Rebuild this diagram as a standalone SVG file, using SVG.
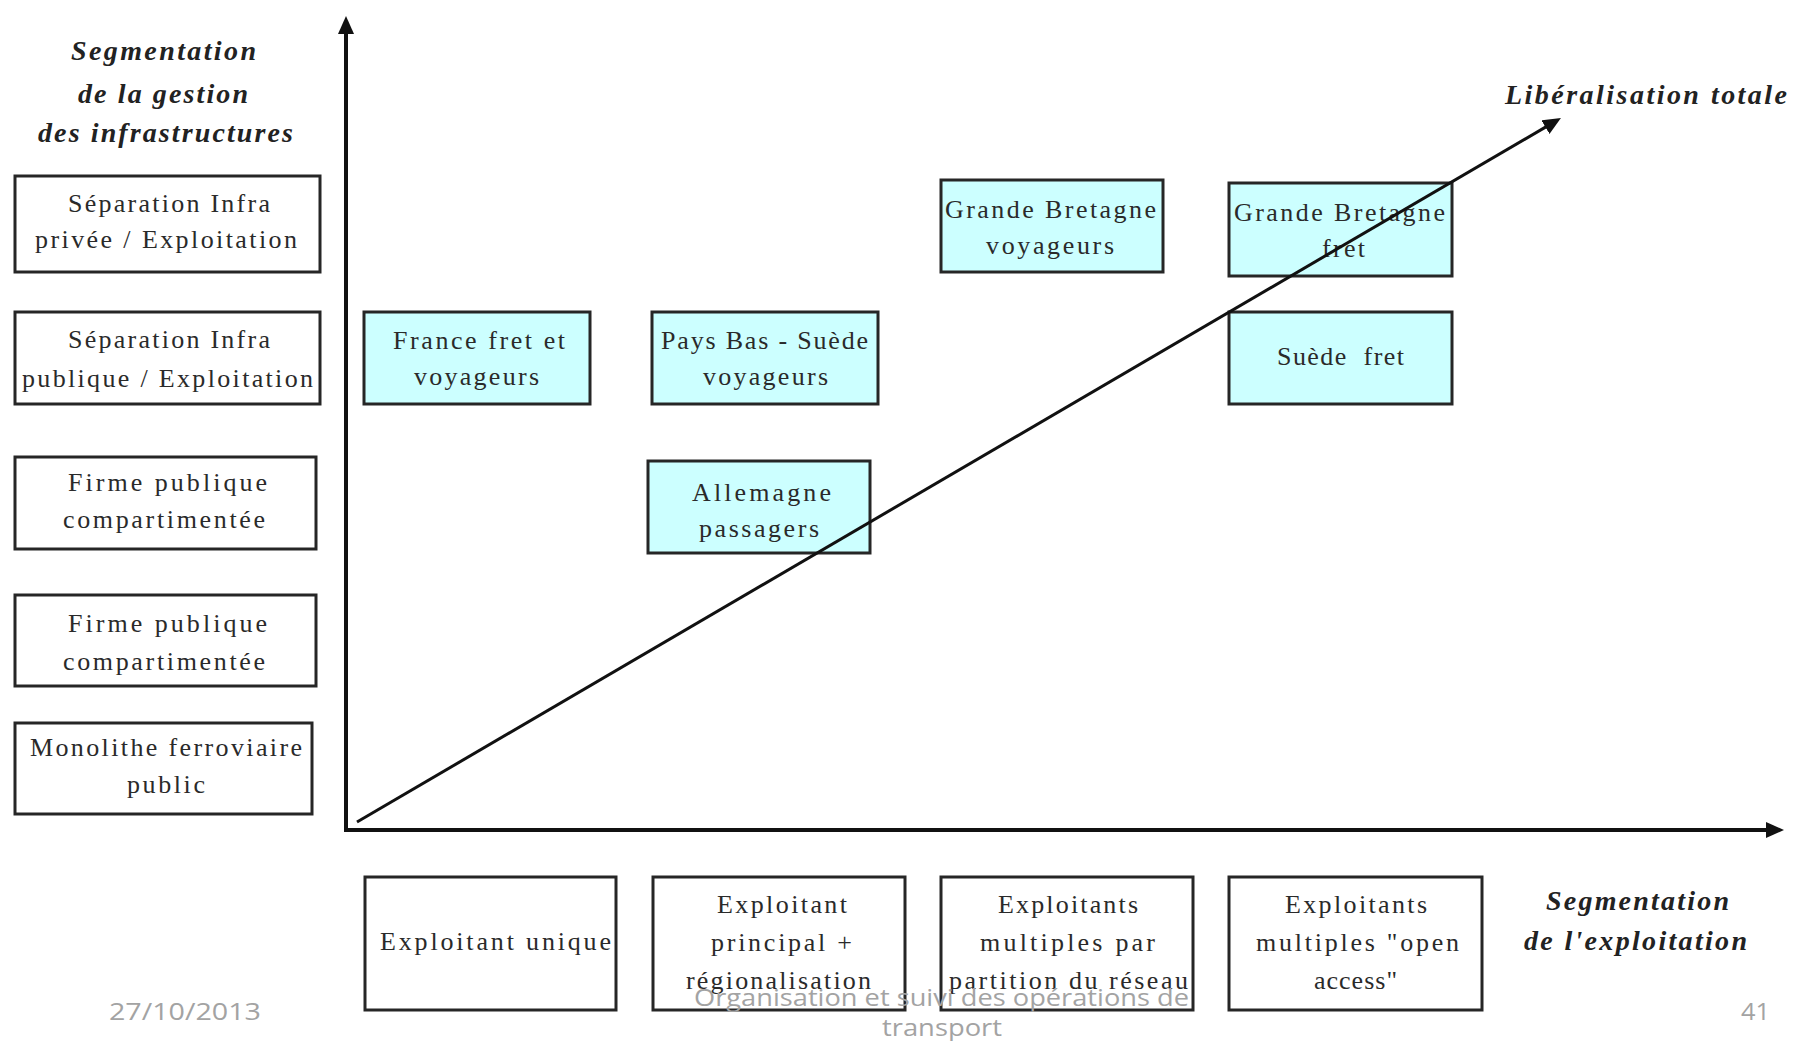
<svg xmlns="http://www.w3.org/2000/svg" width="1793" height="1041" viewBox="0 0 1793 1041">
<style>
.box{fill:#ffffff;stroke:#262626;stroke-width:3}
.cbox{fill:#ccffff;stroke:#262626;stroke-width:3}
.t{font-family:"Liberation Serif","Times New Roman",serif;font-size:26px;fill:#2a2a2a}
.h{font-family:"Liberation Serif","Times New Roman",serif;font-size:28px;font-weight:bold;font-style:italic;fill:#222}
.f{font-family:"Open Sans","Liberation Sans",sans-serif;font-size:23px;fill:#a3a3a3}
.ax{stroke:#111;stroke-width:4;fill:none}
.dg{stroke:#111;stroke-width:3;fill:none}
</style>
<defs>
<marker id="arr" markerUnits="userSpaceOnUse" markerWidth="20" markerHeight="18" refX="6" refY="8" orient="auto">
<path d="M0,0 L18,8 L0,16 z" fill="#111"/>
</marker>
</defs>
<rect width="1793" height="1041" fill="#ffffff"/>

<g id="title-infra">
<text class="h" x="71" y="60" textLength="185" lengthAdjust="spacing">Segmentation</text>
<text class="h" x="78" y="103" textLength="170" lengthAdjust="spacing">de la gestion</text>
<text class="h" x="38" y="142" textLength="255" lengthAdjust="spacing">des infrastructures</text>
</g>
<g id="title-lib">
<text class="h" x="1505" y="104" textLength="282" lengthAdjust="spacing">Libéralisation totale</text>
</g>
<g id="title-exploit">
<text class="h" x="1546" y="910" textLength="183" lengthAdjust="spacing">Segmentation</text>
<text class="h" x="1524" y="950" textLength="223" lengthAdjust="spacing">de l'exploitation</text>
</g>

<g id="infra1">
<rect class="box" x="15" y="176" width="305" height="96"/>
<text class="t" x="68" y="212" textLength="202" lengthAdjust="spacing">Séparation Infra</text>
<text class="t" x="35" y="248" textLength="262" lengthAdjust="spacing">privée / Exploitation</text>
</g>
<g id="infra2">
<rect class="box" x="15" y="312" width="305" height="92"/>
<text class="t" x="68" y="348" textLength="202" lengthAdjust="spacing">Séparation Infra</text>
<text class="t" x="22" y="387" textLength="291" lengthAdjust="spacing">publique / Exploitation</text>
</g>
<g id="infra3">
<rect class="box" x="15" y="457" width="301" height="92"/>
<text class="t" x="68" y="491" textLength="199" lengthAdjust="spacing">Firme publique</text>
<text class="t" x="63" y="528" textLength="202" lengthAdjust="spacing">compartimentée</text>
</g>
<g id="infra4">
<rect class="box" x="15" y="595" width="301" height="91"/>
<text class="t" x="68" y="632" textLength="199" lengthAdjust="spacing">Firme publique</text>
<text class="t" x="63" y="670" textLength="202" lengthAdjust="spacing">compartimentée</text>
</g>
<g id="infra5">
<rect class="box" x="15" y="723" width="297" height="91"/>
<text class="t" x="30" y="756" textLength="272" lengthAdjust="spacing">Monolithe ferroviaire</text>
<text class="t" x="127" y="793" textLength="78" lengthAdjust="spacing">public</text>
</g>

<g id="france">
<rect class="cbox" x="364" y="312" width="226" height="92"/>
<text class="t" x="393" y="349" textLength="172" lengthAdjust="spacing">France fret et</text>
<text class="t" x="414" y="385" textLength="125" lengthAdjust="spacing">voyageurs</text>
</g>
<g id="paysbas">
<rect class="cbox" x="652" y="312" width="226" height="92"/>
<text class="t" x="661" y="349" textLength="207" lengthAdjust="spacing">Pays Bas - Suède</text>
<text class="t" x="703" y="385" textLength="125" lengthAdjust="spacing">voyageurs</text>
</g>
<g id="allemagne">
<rect class="cbox" x="648" y="461" width="222" height="92"/>
<text class="t" x="692" y="501" textLength="139" lengthAdjust="spacing">Allemagne</text>
<text class="t" x="699" y="537" textLength="120" lengthAdjust="spacing">passagers</text>
</g>
<g id="gb-voyageurs">
<rect class="cbox" x="941" y="180" width="222" height="92"/>
<text class="t" x="945" y="218" textLength="211" lengthAdjust="spacing">Grande Bretagne</text>
<text class="t" x="986" y="254" textLength="128" lengthAdjust="spacing">voyageurs</text>
</g>
<g id="gb-fret">
<rect class="cbox" x="1229" y="183" width="223" height="93"/>
<text class="t" x="1234" y="221" textLength="211" lengthAdjust="spacing">Grande Bretagne</text>
<text class="t" x="1322" y="257" textLength="43" lengthAdjust="spacing">fret</text>
</g>
<g id="suede-fret">
<rect class="cbox" x="1229" y="312" width="223" height="92"/>
<text class="t" x="1277" y="365" textLength="127" lengthAdjust="spacing" xml:space="preserve">Suède  fret</text>
</g>

<g id="exploit1">
<rect class="box" x="365" y="877" width="251" height="133"/>
<text class="t" x="380" y="950" textLength="231" lengthAdjust="spacing">Exploitant unique</text>
</g>
<g id="exploit2">
<rect class="box" x="653" y="877" width="252" height="133"/>
<text class="t" x="717" y="913" textLength="130" lengthAdjust="spacing">Exploitant</text>
<text class="t" x="711" y="951" textLength="141" lengthAdjust="spacing">principal +</text>
<text class="t" x="686" y="989" textLength="185" lengthAdjust="spacing">régionalisation</text>
</g>
<g id="exploit3">
<rect class="box" x="941" y="877" width="252" height="133"/>
<text class="t" x="998" y="913" textLength="140" lengthAdjust="spacing">Exploitants</text>
<text class="t" x="980" y="951" textLength="175" lengthAdjust="spacing">multiples par</text>
<text class="t" x="949" y="989" textLength="239" lengthAdjust="spacing">partition du réseau</text>
</g>
<g id="exploit4">
<rect class="box" x="1229" y="877" width="253" height="133"/>
<text class="t" x="1285" y="913" textLength="142" lengthAdjust="spacing">Exploitants</text>
<text class="t" x="1256" y="951" textLength="203" lengthAdjust="spacing">multiples "open</text>
<text class="t" x="1314" y="989" textLength="83" lengthAdjust="spacing">access"</text>
</g>

<g id="connectors">
<line class="ax" x1="346" y1="832" x2="346" y2="28" marker-end="url(#arr)"/>
<line class="ax" x1="344" y1="830" x2="1772" y2="830" marker-end="url(#arr)"/>
<line class="dg" x1="357" y1="822" x2="1550.6" y2="124.1" marker-end="url(#arr)"/>
</g>

<g id="footer">
<text class="f" x="109" y="1020" textLength="152" lengthAdjust="spacingAndGlyphs">27/10/2013</text>
<text class="f" x="694" y="1006" textLength="495" lengthAdjust="spacingAndGlyphs">Organisation et suivi des opérations de</text>
<text class="f" x="882" y="1036" textLength="120" lengthAdjust="spacingAndGlyphs">transport</text>
<text class="f" x="1741" y="1020" textLength="29" lengthAdjust="spacingAndGlyphs">41</text>
</g>
</svg>
